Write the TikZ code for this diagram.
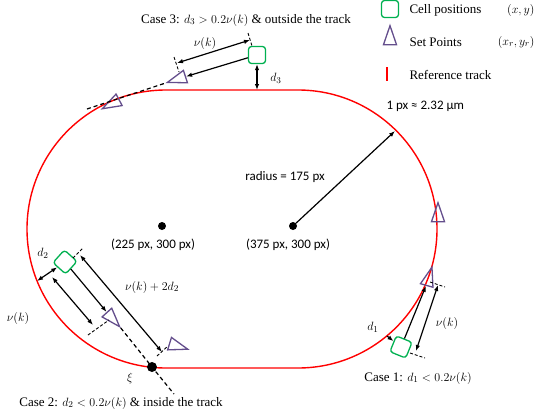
\documentclass[tikz,border=0pt]{standalone}
\usepackage{fontspec}
\setmainfont{Liberation Serif}
\newfontfamily\pxfont{Carlito}
\usetikzlibrary{arrows.meta,positioning,shapes.geometric}
\definecolor{cellgreen}{RGB}{0,176,80}
\definecolor{setpurple}{RGB}{100,78,140}
\definecolor{trackred}{RGB}{255,0,0}

\begin{document}
\begin{tikzpicture}[x=1pt,y=-1pt,font=\fontsize{13}{15}\selectfont,
  cellbox/.style={draw=cellgreen,line width=1.3pt,rounded corners=3pt,minimum size=17pt,inner sep=0pt},
  setpt/.style={isosceles triangle,isosceles triangle stretches,draw=setpurple,line width=1.3pt,minimum width=13pt,minimum height=19pt,inner sep=0pt},
  dot/.style={circle,fill=black,inner sep=0pt,minimum size=8pt},
  trackline/.style={draw=trackred,line width=1.4pt},
  dimarrow/.style={{Latex[length=6pt,width=4.5pt]}-{Latex[length=6pt,width=4.5pt]},line width=1.2pt},
  movearrow/.style={-{Latex[length=6pt,width=4.5pt]},line width=1.2pt},
  tick/.style={line width=0.9pt,dash pattern=on 3pt off 2pt},
  tangent/.style={line width=1.2pt,dash pattern=on 4pt off 3pt}]
  \useasboundingbox (0,0) rectangle (546,416);

  \draw[trackline] (166,90) -- (298,90) arc[start angle=-90,end angle=90,radius=139]
    -- (166,368) arc[start angle=90,end angle=270,radius=139] -- cycle;

  \node[dot] (cl) at (162,226) {};
  \node[dot] (cr) at (293,226) {};
  \node (cltxt) at (153,245) {\pxfont (225 px, 300 px)};
  \node (crtxt) at (288,245) {\pxfont (375 px, 300 px)};
  \coordinate (rr) at (395,131);
  \draw[movearrow] (cr) -- (rr);
  \node (radtxt) at (285,177) {\pxfont radius = 175 px};
  \node[anchor=west] (scaletxt) at (383,106) {\pxfont 1 px ≈ 2.32 μm};

  \node[cellbox] (lgcell) at (390,9) {};
  \node[anchor=west] (lgcelltxt) at (406,10) {Cell positions};
  \node[anchor=east] (lgcellxy) at (538,10) {$(x,y)$};
  \node[setpt,rotate=90] (lgsp) at (390,40) {};
  \node[anchor=west] (lgsptxt) at (406,42) {Set Points};
  \node[anchor=east] (lgspxy) at (538,42) {$(x_r,y_r)$};
  \coordinate (lgra) at (387,67);
  \coordinate (lgrb) at (387,81);
  \draw[trackline] (lgra) -- (lgrb);
  \node[anchor=west] (lgtracktxt) at (406,75) {Reference track};

  \node[setpt,rotate=90] (s0) at (438,217) {};

  \node[cellbox] (c3) at (257,55) {};
  \node[setpt,rotate=198] (s3) at (181,78) {};
  \node[setpt,rotate=208] (s3b) at (115,102) {};
  \coordinate (g3) at (87,109);
  \draw[tangent] (g3) -- (s3.apex);
  \draw[movearrow] (c3) -- (s3);
  \coordinate (v3a) at (177,63);
  \coordinate (v3b) at (250,40);
  \draw[dimarrow] (v3a) -- (v3b);
  \draw[tick] (174,57) -- (179,72);
  \draw[tick] (248,33) -- (252,46);
  \coordinate (t3) at (257,90);
  \draw[dimarrow] (c3) -- (t3);
  \node (v3txt) at (205,43) {$\nu(k)$};
  \node (d3txt) at (276,78) {$d_3$};
  \node (case3) at (246,20) {Case 3: $d_3 > 0.2\nu(k)$ \& outside the track};

  \node[cellbox,rotate=-42] (c2) at (65,262) {};
  \node[setpt,rotate=-48] (s2) at (110,316) {};
  \node[setpt,rotate=-17] (s2b) at (174,345) {};
  \node[dot,minimum size=10pt] (xi) at (152,367) {};
  \coordinate (g2) at (174,394);
  \draw[tangent] (s2.apex) -- (xi.center) -- (g2);
  \draw[movearrow] (c2) -- (s2);
  \coordinate (w2a) at (80,255);
  \coordinate (w2b) at (162,352);
  \draw[dimarrow] (w2a) -- (w2b);
  \draw[tick] (73,258) -- (83,248);
  \draw[tick] (157,356) -- (168,346);
  \coordinate (v2a) at (52,277);
  \coordinate (v2b) at (93,325);
  \draw[dimarrow] (v2a) -- (v2b);
  \draw[tick] (88,335) -- (109,320);
  \coordinate (t2) at (37,281);
  \draw[dimarrow] (t2) -- (c2);
  \node (d2txt) at (43,253) {$d_2$};
  \node (v2txt) at (18,318) {$\nu(k)$};
  \node (w2txt) at (152,287) {$\nu(k)+2d_2$};
  \node (xitxt) at (130,378) {$\xi$};
  \node (case2) at (121,403) {Case 2: $d_2 < 0.2\nu(k)$ \& inside the track};

  \node[cellbox,rotate=-22] (c1) at (401,347) {};
  \node[setpt,rotate=74] (s1) at (428,281) {};
  \draw[movearrow] (c1) -- (s1);
  \coordinate (v1a) at (416,351);
  \coordinate (v1b) at (438,285);
  \draw[dimarrow] (v1a) -- (v1b);
  \draw[tick] (410,353) -- (425,358);
  \draw[tick] (430,282) -- (445,287);
  \coordinate (t1) at (387,336);
  \draw[movearrow] (t1) -- (c1);
  \node (d1txt) at (373,327) {$d_1$};
  \node (v1txt) at (447,323) {$\nu(k)$};
  \node (case1) at (418,378) {Case 1: $d_1 < 0.2\nu(k)$};
\end{tikzpicture}
\end{document}
